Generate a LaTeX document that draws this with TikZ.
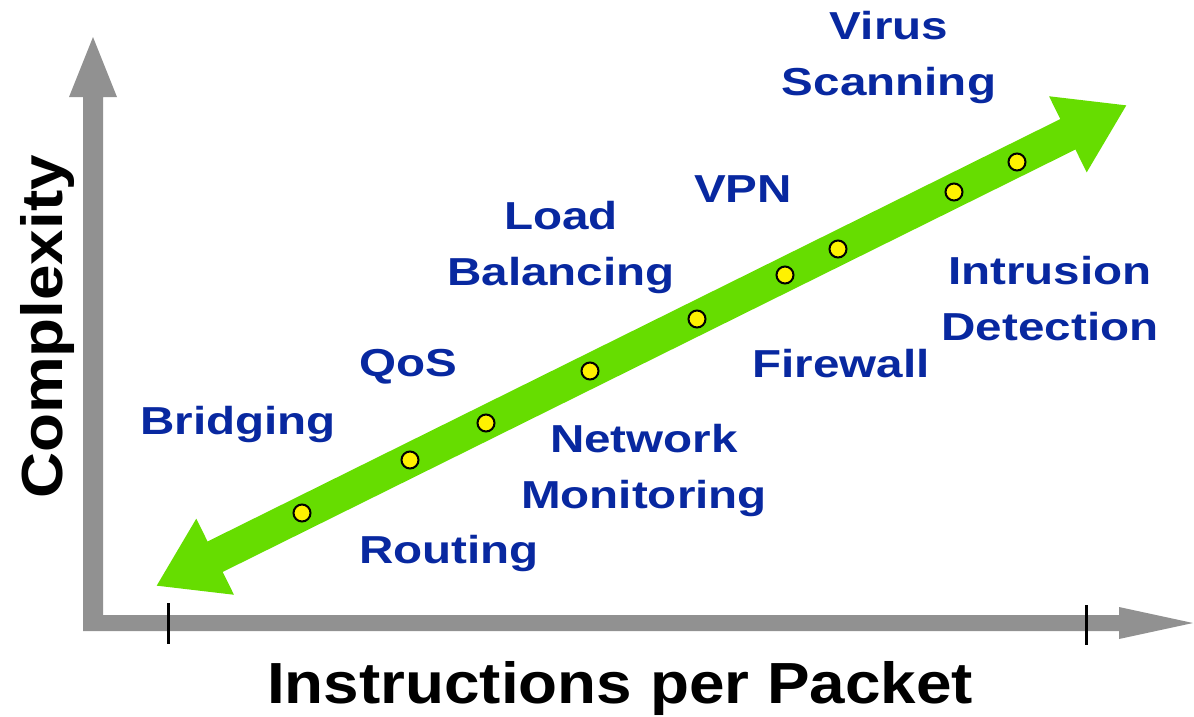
\documentclass[tikz,border=0pt]{standalone}
\usepackage{fontspec}
\setmainfont{Liberation Sans}
\newfontfamily\labelfont[FakeStretch=1.22]{Liberation Sans}
\newfontfamily\axisfont[FakeStretch=1.1]{Liberation Sans}
\usetikzlibrary{arrows.meta,calc}
\definecolor{axisgray}{RGB}{145,145,145}
\definecolor{bandgreen}{RGB}{102,221,0}
\definecolor{labelblue}{RGB}{8,40,160}
\begin{document}
\begin{tikzpicture}[x=1pt,y=-1pt,
  app/.style={font=\labelfont\bfseries\fontsize{39}{56}\selectfont, text=labelblue, align=center, anchor=base, inner sep=0pt},
  axislabel/.style={font=\axisfont\bfseries\fontsize{58}{60}\selectfont, anchor=base, inner sep=0pt},
  tickmark/.style={line width=3pt, black},
  dot/.style={circle, draw=black, fill=yellow, line width=2pt, minimum size=17pt, inner sep=0pt}]
\useasboundingbox (0,0) rectangle (1194,716);

% axes: one grey L-shaped outline with two arrow heads
\fill[axisgray] (83,631) -- (83,97) -- (69,97) -- (93,37) -- (117,97) -- (103,97)
  -- (103,615) -- (1119,615) -- (1119,607) -- (1193,623) -- (1119,639) -- (1119,631) -- cycle;

% tick marks on the horizontal axis
\coordinate (t1a) at (168,603); \coordinate (t1b) at (168,644);
\coordinate (t2a) at (1086,605); \coordinate (t2b) at (1086,645);
\draw[tickmark] (t1a) -- (t1b);
\draw[tickmark] (t2a) -- (t2b);

% double-headed green band
\coordinate (lo) at (156,586);
\coordinate (hi) at (1127,105);
\draw[bandgreen, line width=34pt,
  {Triangle[length=66pt,width=80pt]}-{Triangle[length=66pt,width=80pt]}] (lo) -- (hi);

% application points along the band
\node[dot] (d1) at (302,513) {};
\node[dot] (d2) at (410,460) {};
\node[dot] (d3) at (486,423) {};
\node[dot] (d4) at (590,371) {};
\node[dot] (d5) at (697,319) {};
\node[dot] (d6) at (785,275) {};
\node[dot] (d7) at (838,249) {};
\node[dot] (d8) at (954,192) {};
\node[dot] (d9) at (1017,162) {};

% application labels (base anchor sits on the last line)
\node[app] (bridging) at (238,434) {Bridging};
\node[app] (routing) at (449,563) {Routing};
\node[app] (qos) at (408,376) {QoS};
\node[app] (netmon) at (644,508) {Network\\Monitoring};
\node[app] (loadbal) at (561,285) {Load\\Balancing};
\node[app] (firewall) at (841,377) {Firewall};
\node[app] (vpn) at (743,202) {VPN};
\node[app] (virus) at (889,95) {Virus\\Scanning};
\node[app] (ids) at (1050,340) {Intrusion\\Detection};

% axis titles
\node[axislabel] (xlabel) at (620,703) {Instructions per Packet};
\node[axislabel, rotate=90] (ylabel) at (62,327) {Complexity};
\end{tikzpicture}
\end{document}
